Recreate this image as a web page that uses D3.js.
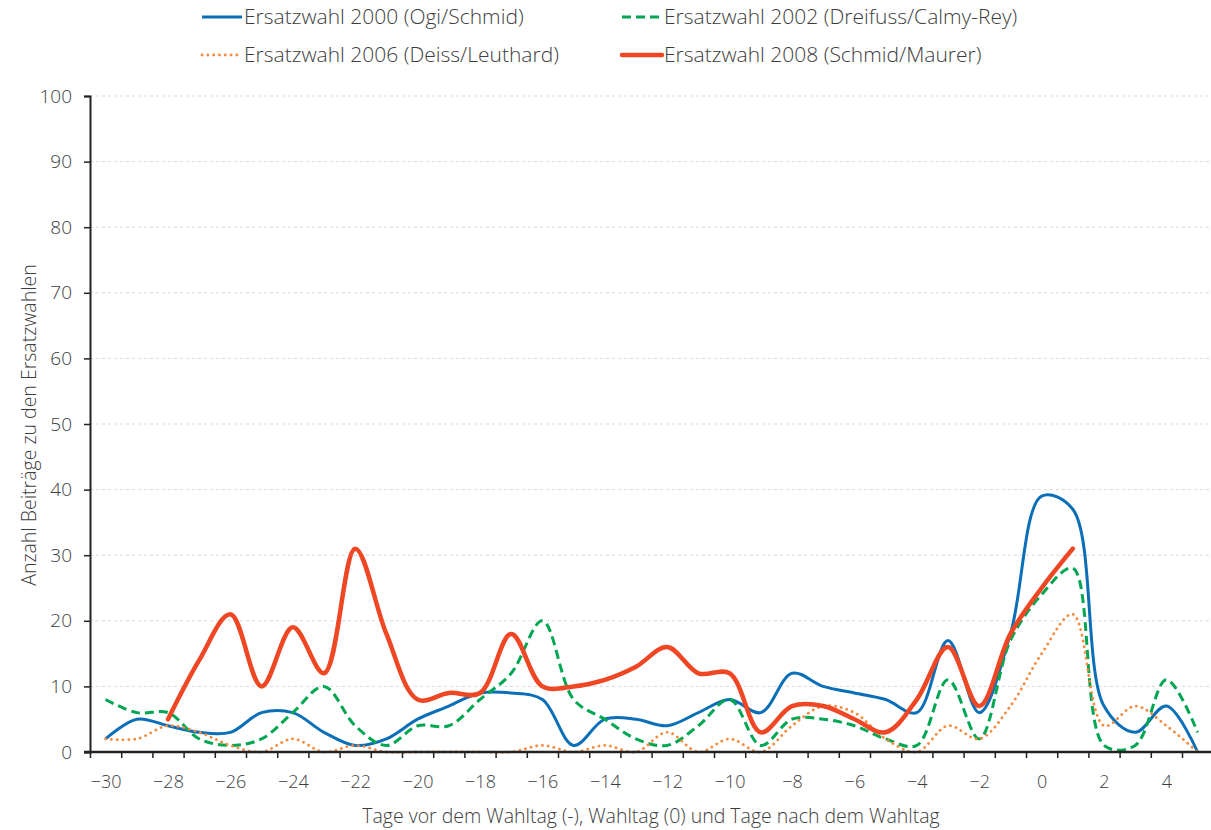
<!DOCTYPE html>
<html>
<head>
<meta charset="utf-8">
<script src="https://cdn.jsdelivr.net/npm/d3@7"></script>
<style>
  body { margin: 0; background: #fff; }
  text { font-family: "Open Sans", "DejaVu Sans", sans-serif; font-weight: 300; }
</style>
</head>
<body>
<script>
// Days relative to the election day
const days = d3.range(-30, 6);

// Number of articles per day (null = no value)
const wahl2000 = [2, 5, 4, 3, 3, 6, 6, 3, 1, 2, 5, 7, 9, 9, 8, 1, 5, 5, 4, 6, 8, 6, 12, 10, 9, 8, 6, 17, 6, 18, 39, 37, 7, 3, 7, 0];
const wahl2002 = [8, 6, 6, 2, 1, 2, 6, 10, 4, 1, 4, 4, 8, 12, 20, 8, 5, 2, 1, 4, 8, 1, 5, 5, 4, 2, 1, 11, 2, 17, 24, 28, 1, 1, 11, 3];
const wahl2006 = [2, 2, 4, 3, 1, 0, 2, 0, 1, 0, 0, 0, 0, 0, 1, 0, 1, 0, 3, 0, 2, 0, 4, 7, 6, 2, 0, 4, 2, 7, 15, 21, 4, 7, 4, 0];
const wahl2008 = [null, null, 5, 14, 21, 10, 19, 12, 31, 18, 8, 9, 9, 18, 10, 10, 11, 13, 16, 12, 12, 3, 7, 7, 5, 3, 8, 16, 7, 18, 25, 31, null, null, null, null];

const seriesNames = [
    "Ersatzwahl 2000 (Ogi/Schmid)",
    "Ersatzwahl 2002 (Dreifuss/Calmy-Rey)",
    "Ersatzwahl 2006 (Deiss/Leuthard)",
    "Ersatzwahl 2008 (Schmid/Maurer)"
];
const yTicks = d3.range(0, 101, 10);
const xLabels = d3.range(-30, 5, 2);

const width = 1211, height = 830;
const margin = { left: 90, top: 96, bottom: 78 };
const textColor = "#3d3d3d";

const svg = d3.select("body")
    .append("svg")
    .attr("width", width)
    .attr("height", height);

// Category axis: each day occupies one slot, ticks sit between slots
const x = d3.scaleLinear()
    .domain([-30.5, 5.5])
    .range([margin.left, margin.left + 36 * 31.2]);

const y = d3.scaleLinear()
    .domain([0, 100])
    .range([height - margin.bottom, margin.top]);

// Gridlines
svg.append("g")
    .selectAll("line")
    .data(yTicks.slice(1))
    .enter().append("line")
    .attr("x1", margin.left)
    .attr("x2", width)
    .attr("y1", d => y(d))
    .attr("y2", d => y(d))
    .attr("stroke", "#d9d9d9")
    .attr("stroke-width", 1)
    .attr("stroke-dasharray", "3,3");

// Series styles
const series = [
    { name: seriesNames[0], values: wahl2000, color: "#0a6fb7", width: 3, dash: null, cap: "butt" },
    { name: seriesNames[1], values: wahl2002, color: "#00a651", width: 3, dash: "9,5", cap: "butt" },
    { name: seriesNames[2], values: wahl2006, color: "#f58a3c", width: 2.8, dash: "0.1,5.7", cap: "round" },
    { name: seriesNames[3], values: wahl2008, color: "#ef4623", width: 4.5, dash: null, cap: "round" }
];

const line = d3.line()
    .x(d => x(d[0]))
    .y(d => y(d[1]))
    .curve(d3.curveCatmullRom.alpha(0.5));

svg.append("g")
    .selectAll("path")
    .data(series)
    .enter().append("path")
    .attr("fill", "none")
    .attr("stroke", d => d.color)
    .attr("stroke-width", d => d.width)
    .attr("stroke-dasharray", d => d.dash)
    .attr("stroke-linecap", d => d.cap)
    .attr("stroke-linejoin", "round")
    .attr("d", d => line(days.map((day, i) => [day, d.values[i]]).filter(p => p[1] != null)));

// Y axis
const yAxis = svg.append("g")
    .attr("transform", `translate(${margin.left},0)`)
    .call(d3.axisLeft(y).tickValues(yTicks).tickSize(6).tickPadding(12));
yAxis.select(".domain").attr("stroke", "#222").attr("stroke-width", 2);
yAxis.selectAll(".tick line").attr("stroke", "#222").attr("stroke-width", 1.5);
yAxis.selectAll("text").style("font-size", "19px").style("fill", textColor);

// X axis: tick marks between days
const xAxis = svg.append("g")
    .attr("transform", `translate(0,${y(0)})`)
    .call(d3.axisBottom(x).tickValues(d3.range(-30.5, 5.6, 1)).tickSize(6).tickFormat(""));
xAxis.select(".domain").remove();
xAxis.selectAll(".tick line").attr("stroke", "#222").attr("stroke-width", 1.5);
svg.append("line")
    .attr("x1", margin.left - 6)
    .attr("x2", width)
    .attr("y1", y(0))
    .attr("y2", y(0))
    .attr("stroke", "#222")
    .attr("stroke-width", 2.5);

// X tick labels, every second day
const xLab = svg.append("g")
    .attr("transform", `translate(0,${y(0)})`)
    .call(d3.axisBottom(x).tickValues(xLabels).tickSize(0).tickPadding(23));
xLab.select(".domain").remove();
xLab.selectAll("text").style("font-size", "18px").style("fill", textColor);

// Axis titles
svg.append("text")
    .attr("x", 651)
    .attr("y", 823)
    .attr("text-anchor", "middle")
    .style("font-size", "19.5px")
    .style("fill", textColor)
    .text("Tage vor dem Wahltag (-), Wahltag (0) und Tage nach dem Wahltag");

svg.append("text")
    .attr("transform", "translate(36,425) rotate(-90)")
    .attr("text-anchor", "middle")
    .style("font-size", "19.5px")
    .style("fill", textColor)
    .text("Anzahl Beiträge zu den Ersatzwahlen");

// Legend
const legendPos = [[202, 17], [622, 17], [202, 55], [622, 55]];
const legend = svg.append("g")
    .selectAll("g")
    .data(series)
    .enter().append("g")
    .attr("transform", (d, i) => `translate(${legendPos[i][0]},${legendPos[i][1]})`);

legend.append("line")
    .attr("x1", 0)
    .attr("x2", 40)
    .attr("stroke", d => d.color)
    .attr("stroke-width", d => d.width)
    .attr("stroke-dasharray", d => d.dash)
    .attr("stroke-linecap", d => d.cap);

legend.append("text")
    .attr("x", 42)
    .attr("dy", "0.35em")
    .style("font-size", "21px")
    .style("fill", textColor)
    .text(d => d.name);
</script>
</body>
</html>
